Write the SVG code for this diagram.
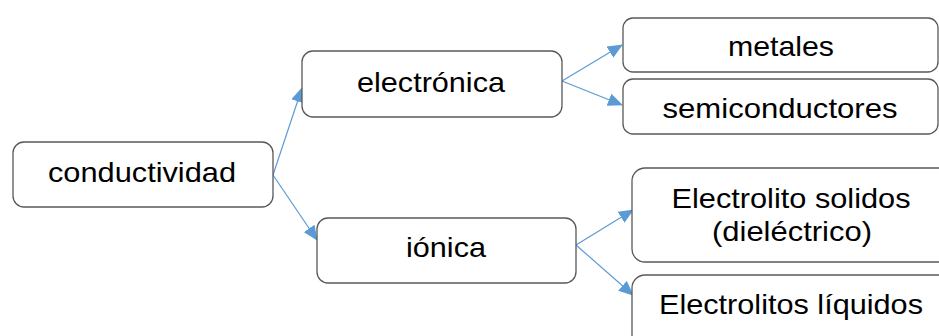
<svg xmlns="http://www.w3.org/2000/svg" width="939" height="336" viewBox="0 0 939 336">
  <style>
    .box { fill: #ffffff; stroke: #595959; stroke-width: 1.3; }
    .lbl { font-family: "Liberation Sans", Arial, sans-serif; font-size: 28.5px; fill: #000000; text-anchor: middle; }
    .edge { fill: none; stroke: #5b9bd5; stroke-width: 1.2; marker-end: url(#head); }
  </style>
  <defs>
    <marker id="head" markerUnits="userSpaceOnUse" markerWidth="15" markerHeight="13" refX="14" refY="6.5" orient="auto">
      <path d="M0,0 L15,6.5 L0,13 Z" fill="#5b9bd5"/>
    </marker>
  </defs>
  <rect width="939" height="336" fill="#ffffff"/>

  <g id="connectors">
    <line class="edge" x1="273" y1="175" x2="302" y2="88"/>
    <line class="edge" x1="273" y1="175" x2="317" y2="240"/>
    <line class="edge" x1="562" y1="81" x2="622" y2="45"/>
    <line class="edge" x1="562" y1="81" x2="622" y2="105"/>
    <line class="edge" x1="576" y1="245" x2="633" y2="210"/>
    <line class="edge" x1="576" y1="245" x2="633" y2="295"/>
  </g>

  <g id="conductividad">
    <rect class="box" x="13" y="142" width="260" height="65" rx="11"/>
    <text class="lbl" x="142" y="182" textLength="188" lengthAdjust="spacingAndGlyphs">conductividad</text>
  </g>

  <g id="electronica">
    <rect class="box" x="302" y="51" width="260" height="66" rx="11"/>
    <text class="lbl" x="431" y="92" textLength="148" lengthAdjust="spacingAndGlyphs">electrónica</text>
  </g>

  <g id="ionica">
    <rect class="box" x="317" y="218" width="259" height="65" rx="11"/>
    <text class="lbl" x="446" y="257" textLength="80" lengthAdjust="spacingAndGlyphs">iónica</text>
  </g>

  <g id="metales">
    <rect class="box" x="623" y="18" width="315" height="54" rx="10"/>
    <text class="lbl" x="781" y="56" textLength="106" lengthAdjust="spacingAndGlyphs">metales</text>
  </g>

  <g id="semiconductores">
    <rect class="box" x="623" y="79" width="315" height="55" rx="10"/>
    <text class="lbl" x="780" y="118" textLength="235" lengthAdjust="spacingAndGlyphs">semiconductores</text>
  </g>

  <g id="electrolito-solidos">
    <rect class="box" x="632" y="168" width="320" height="94" rx="13"/>
    <text class="lbl" x="791" y="208" textLength="239" lengthAdjust="spacingAndGlyphs">Electrolito solidos</text>
    <text class="lbl" x="792" y="241" textLength="160" lengthAdjust="spacingAndGlyphs">(dieléctrico)</text>
  </g>

  <g id="electrolitos-liquidos">
    <rect class="box" x="632" y="275" width="320" height="80" rx="13"/>
    <text class="lbl" x="791" y="314" textLength="264" lengthAdjust="spacingAndGlyphs">Electrolitos líquidos</text>
  </g>
</svg>
